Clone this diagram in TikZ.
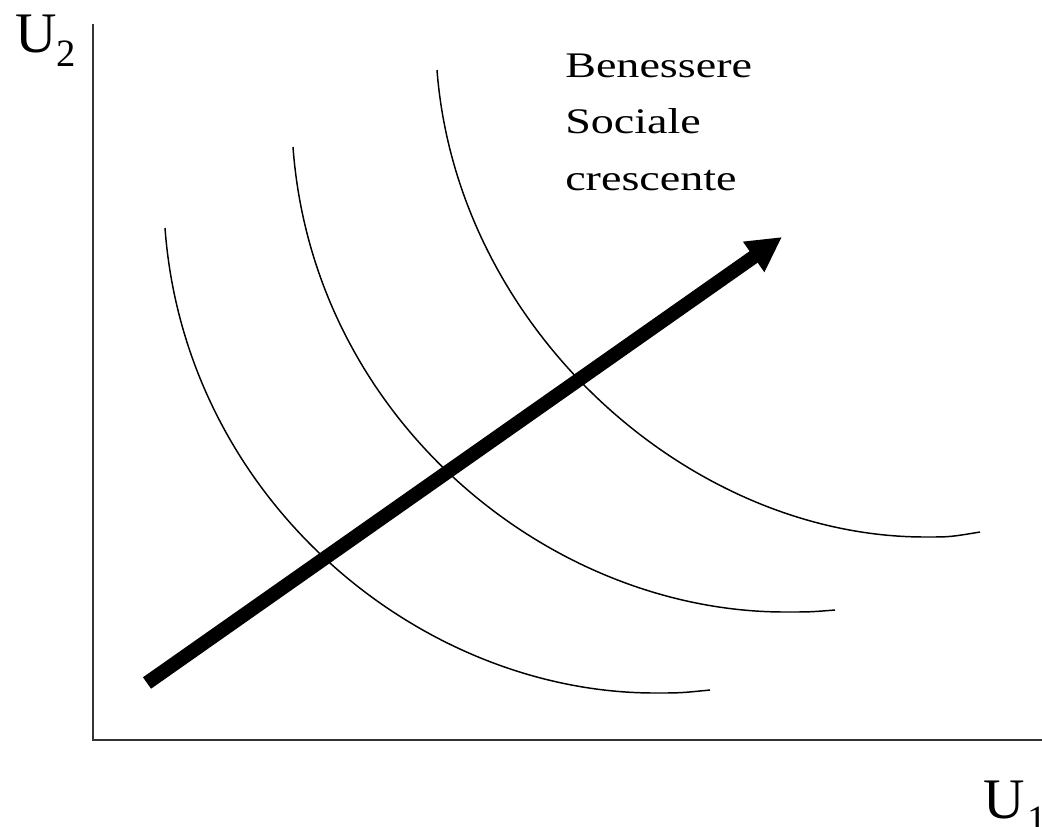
\documentclass[tikz,border=0pt]{standalone}
\usepackage{fontspec}
\setmainfont{Liberation Serif}
\newfontfamily\gar[FakeStretch=1.28]{Liberation Serif}
\usetikzlibrary{arrows.meta}
\begin{document}
\begin{tikzpicture}[x=0.75pt,y=-0.75pt,
  axis/.style={line width=1.4pt,draw=black!80},
  curve/.style={line width=1.1pt},
  bigarrow/.style={line width=10.5pt,-{Triangle[length=26pt,width=26pt]}},
  label/.style={inner sep=0pt,anchor=base west,font=\gar\fontsize{27}{30}\selectfont},
  axlabel/.style={inner sep=0pt,anchor=base west}]
\useasboundingbox (0,0) rectangle (1042,826);
\fill[white] (0,0) rectangle (1042,826);
% axes
\coordinate (top) at (93,24);
\coordinate (origin) at (93,740);
\coordinate (right) at (1042,740);
\draw[axis] (top) -- (origin) -- (right);
% labels
\node[axlabel] (u2) at (15,52) {\fontsize{43}{43}\selectfont U\raisebox{-11pt}{\fontsize{29}{29}\selectfont 2}};
\node[axlabel] (u1) at (983,818) {\fontsize{43}{43}\selectfont U\hspace{2pt}\raisebox{-11pt}{\fontsize{29}{29}\selectfont 1}};
% curves
\coordinate (c1s) at (165,228);
\coordinate (c1m) at (655,693);
\coordinate (c1e) at (710,690);
\draw[curve] (c1s) .. controls (185,500) and (420,693) .. (c1m) .. controls (680,693) .. (c1e);
\coordinate (c2s) at (293,147);
\coordinate (c2m) at (785,612);
\coordinate (c2e) at (835,610);
\draw[curve] (c2s) .. controls (313,420) and (550,612) .. (c2m) .. controls (810,612) .. (c2e);
\coordinate (c3s) at (437,70);
\coordinate (c3m) at (925,537);
\coordinate (c3e) at (980,532);
\draw[curve] (c3s) .. controls (457,330) and (690,537) .. (c3m) .. controls (950,537) .. (c3e);
% arrow
\coordinate (as) at (147,683);
\coordinate (ae) at (782,237);
\draw[bigarrow] (as) -- (ae);
% text
\node[label] (t1) at (565,77) {Benessere};
\node[label] (t2) at (565,133) {Sociale};
\node[label] (t3) at (565,190) {crescente};
\end{tikzpicture}
\end{document}
